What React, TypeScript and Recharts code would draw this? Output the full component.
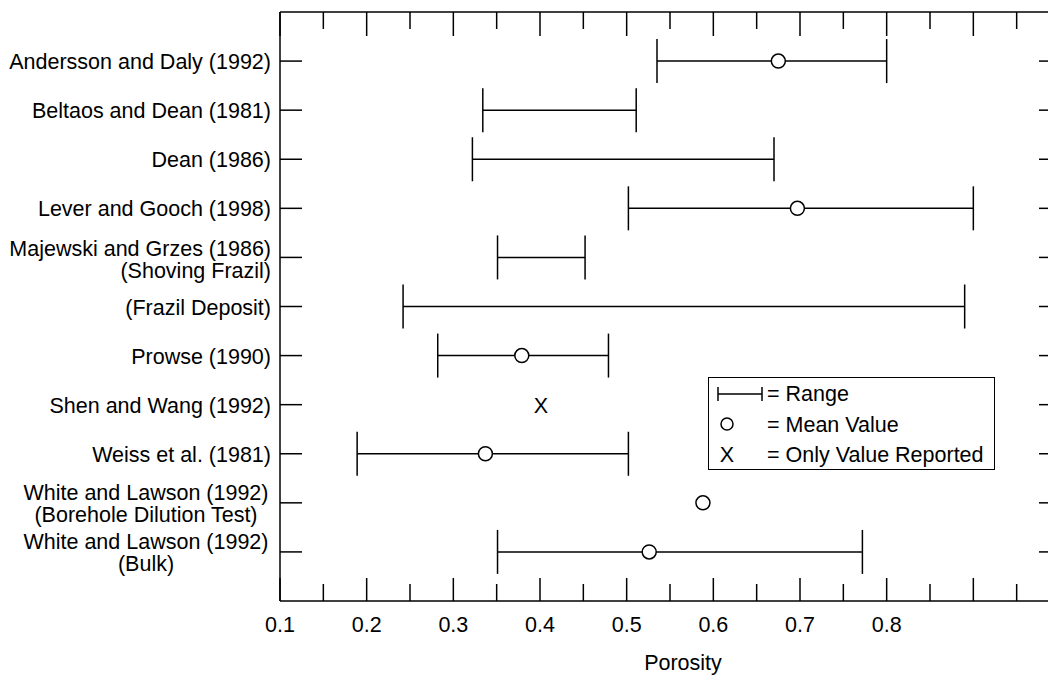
import React from "react";
import {
  ComposedChart,
  Scatter,
  ErrorBar,
  XAxis,
  YAxis,
  Label,
} from "recharts";

const STUDY_LABELS = [
  ["Andersson and Daly (1992)"],
  ["Beltaos and Dean (1981)"],
  ["Dean (1986)"],
  ["Lever and Gooch (1998)"],
  ["Majewski and Grzes (1986)", "(Shoving Frazil)"],
  ["(Frazil Deposit)"],
  ["Prowse (1990)"],
  ["Shen and Wang (1992)"],
  ["Weiss et al. (1981)"],
  ["White and Lawson (1992)", "(Borehole Dilution Test)"],
  ["White and Lawson (1992)", "(Bulk)"],
];
const ROWS = [1, 2, 3, 4, 5, 6, 7, 8, 9, 10, 11];

const RANGE_LOW = [0.535, 0.334, 0.322, 0.502, 0.351, 0.242, 0.282, null, 0.189, null, 0.351];
const RANGE_HIGH = [0.8, 0.511, 0.67, 0.9, 0.452, 0.89, 0.479, null, 0.502, null, 0.772];
const MEAN_VALUE = [0.675, null, null, 0.697, null, null, 0.379, null, 0.337, 0.588, 0.526];
const ONLY_VALUE = [null, null, null, null, null, null, null, 0.401, null, null, null];

const MAJOR_TICKS = [0.1, 0.2, 0.3, 0.4, 0.5, 0.6, 0.7, 0.8, 0.9, 1.0];
const MINOR_TICKS = [0.15, 0.25, 0.35, 0.45, 0.55, 0.65, 0.75, 0.85, 0.95];
const TICK_LABELS = ["0.1", "0.2", "0.3", "0.4", "0.5", "0.6", "0.7", "0.8"];
const ALL_TICKS = [...MAJOR_TICKS, ...MINOR_TICKS].sort((a, b) => a - b);

const FONT = "'Liberation Sans', Arial, Helvetica, sans-serif";
const FS = 21.5;
const CENTERED_ROWS = [10, 11];

const rangeData = ROWS.filter((_, i) => RANGE_LOW[i] != null).map((row) => {
  const i = row - 1;
  return { y: row, x: RANGE_LOW[i] as number, err: [0, (RANGE_HIGH[i] as number) - (RANGE_LOW[i] as number)] };
});
const meanData = ROWS.filter((_, i) => MEAN_VALUE[i] != null).map((row) => ({ y: row, x: MEAN_VALUE[row - 1] }));
const onlyData = ROWS.filter((_, i) => ONLY_VALUE[i] != null).map((row) => ({ y: row, x: ONLY_VALUE[row - 1] }));

const isMajor = (v: number) => MAJOR_TICKS.findIndex((t) => Math.abs(t - v) < 1e-6);

function BottomTick(props: any) {
  const { x, y, payload } = props;
  const idx = isMajor(payload.value);
  const len = idx >= 0 ? 23 : 17;
  return (
    <g>
      <line x1={x} y1={y} x2={x} y2={y - len} stroke="#000" strokeWidth={1.5} />
      {idx >= 0 && idx < TICK_LABELS.length && (
        <text x={x} y={y + 31} textAnchor="middle" fontSize={FS} fontFamily={FONT} fill="#000">
          {TICK_LABELS[idx]}
        </text>
      )}
    </g>
  );
}

function TopTick(props: any) {
  const { x, y, payload } = props;
  const len = isMajor(payload.value) >= 0 ? 24 : 17;
  return <line x1={x} y1={y} x2={x} y2={y + len} stroke="#000" strokeWidth={1.5} />;
}

function LeftTick(props: any) {
  const { x, y, payload } = props;
  const row = payload.value as number;
  const lines = STUDY_LABELS[row - 1] || [];
  const centered = CENTERED_ROWS.includes(row);
  const offsets = lines.length === 1 ? [0] : centered ? [-11, 11] : [-9, 13];
  return (
    <g>
      <line x1={x} y1={y} x2={x + 22} y2={y} stroke="#000" strokeWidth={1.5} />
      {lines.map((s, k) => (
        <text
          key={k}
          x={centered ? x - 134 : x - 9}
          y={y + offsets[k] + 8}
          textAnchor={centered ? "middle" : "end"}
          fontSize={FS}
          fontFamily={FONT}
          fill="#000"
        >
          {s}
        </text>
      ))}
    </g>
  );
}

function RightTick(props: any) {
  const { x, y } = props;
  return <line x1={x - 21} y1={y} x2={x} y2={y} stroke="#000" strokeWidth={1.5} />;
}

const MeanDot = (props: any) => (
  <circle cx={props.cx} cy={props.cy} r={7} fill="#fff" stroke="#000" strokeWidth={1.5} />
);
const OnlyMark = (props: any) => (
  <text x={props.cx} y={props.cy + 8} textAnchor="middle" fontSize={FS} fontFamily={FONT} fill="#000">
    X
  </text>
);

function LegendBox() {
  return (
    <div
      style={{
        position: "absolute",
        left: 708,
        top: 377,
        width: 287,
        height: 93,
        border: "1.5px solid #000",
        background: "#fff",
        boxSizing: "border-box",
      }}
    >
      <svg width={287} height={93} style={{ display: "block" }}>
        <g stroke="#000" strokeWidth={1.5}>
          <line x1={9} y1={16} x2={53} y2={16} />
          <line x1={9} y1={9} x2={9} y2={23} />
          <line x1={53} y1={9} x2={53} y2={23} />
        </g>
        <circle cx={18} cy={46} r={6} fill="#fff" stroke="#000" strokeWidth={1.5} />
        <g fontSize={FS} fontFamily={FONT} fill="#000">
          <text x={18} y={84} textAnchor="middle">X</text>
          <text x={58} y={23}>= Range</text>
          <text x={58} y={54}>= Mean Value</text>
          <text x={58} y={84}>= Only Value Reported</text>
        </g>
      </svg>
    </div>
  );
}

export default function App() {
  const axisLine = { stroke: "#000", strokeWidth: 1.5 };
  return (
    <div
      style={{
        position: "fixed",
        left: 0,
        top: 0,
        width: 1048,
        height: 675,
        overflow: "hidden",
        background: "#fff",
      }}
    >
      <ComposedChart width={1080} height={675} margin={{ top: 0, right: 0, bottom: 0, left: 0 }}>
        <XAxis
          type="number"
          dataKey="x"
          domain={[0.1, 1.0]}
          ticks={ALL_TICKS}
          interval={0}
          allowDataOverflow
          height={74}
          axisLine={axisLine}
          tickLine={false}
          tickSize={0}
          tickMargin={0}
          tick={<BottomTick />}
        >
          <Label
            content={(p: any) => {
              const vb = p.viewBox || { x: 280, y: 601, width: 780 };
              return (
                <text
                  x={vb.x + vb.width / 2 + 13}
                  y={vb.y + 69}
                  textAnchor="middle"
                  fontSize={FS}
                  fontFamily={FONT}
                  fill="#000"
                >
                  Porosity
                </text>
              );
            }}
          />
        </XAxis>
        <XAxis
          xAxisId="top"
          orientation="top"
          type="number"
          dataKey="x"
          domain={[0.1, 1.0]}
          ticks={ALL_TICKS}
          interval={0}
          allowDataOverflow
          height={12}
          axisLine={axisLine}
          tickLine={false}
          tickSize={0}
          tickMargin={0}
          tick={<TopTick />}
        />
        <YAxis
          type="number"
          dataKey="y"
          domain={[0, 12]}
          reversed
          ticks={ROWS}
          interval={0}
          allowDataOverflow
          width={280}
          axisLine={axisLine}
          tickLine={false}
          tickSize={0}
          tickMargin={0}
          tick={<LeftTick />}
        />
        <YAxis
          yAxisId="right"
          orientation="right"
          type="number"
          dataKey="y"
          domain={[0, 12]}
          reversed
          ticks={ROWS}
          interval={0}
          allowDataOverflow
          width={20}
          axisLine={axisLine}
          tickLine={false}
          tickSize={0}
          tickMargin={0}
          tick={<RightTick />}
        />
        <Scatter data={rangeData} isAnimationActive={false} shape={() => <g />}>
          <ErrorBar dataKey="err" direction="x" width={22} stroke="#000" strokeWidth={1.5} isAnimationActive={false} />
        </Scatter>
        <Scatter data={meanData} isAnimationActive={false} shape={<MeanDot />} />
        <Scatter data={onlyData} isAnimationActive={false} shape={<OnlyMark />} />
      </ComposedChart>
      <LegendBox />
    </div>
  );
}
